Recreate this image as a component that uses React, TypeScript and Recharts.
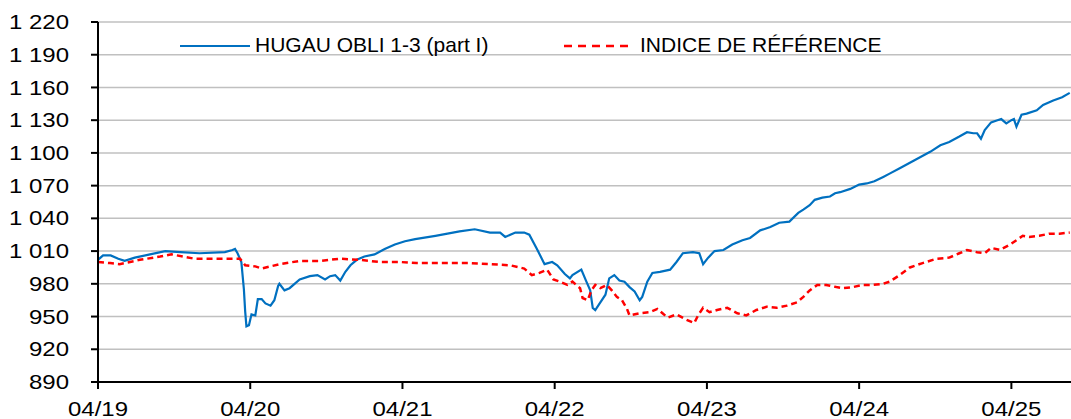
import React from 'react';
import { LineChart, Line, XAxis, YAxis, CartesianGrid } from 'recharts';

// months since 04/2019
const fundMonths = [
  0, 0.4, 1.0, 1.6, 2.1, 2.9, 4.1, 5.3, 6.5, 8.0, 10.0, 10.6, 10.8, 11.0, 11.3, 11.5, 11.6, 11.7, 11.9, 12.1,
  12.4, 12.6, 12.9, 13.2, 13.6, 13.9, 14.2, 14.3, 14.7, 15.1, 15.9, 16.7, 17.3, 17.9, 18.3, 18.7, 19.1, 19.5,
  19.9, 20.4, 21.0, 21.8, 22.6, 23.4, 24.2, 25.0, 26.6, 28.5, 29.7, 30.9, 31.7, 32.1, 32.9, 33.6, 34.0, 34.6,
  35.2, 35.8, 36.2, 36.8, 37.2, 37.4, 38.1, 38.5, 38.8, 39.0, 39.2, 39.6, 40.0, 40.3, 40.7, 41.1, 41.5, 41.9,
  42.3, 42.7, 42.9, 43.3, 43.7, 44.3, 45.1, 45.6, 46.1, 46.9, 47.4, 47.7, 48.1, 48.6, 49.3, 50.0, 50.8, 51.4,
  52.2, 53.0, 53.7, 54.5, 55.2, 55.6, 56.1, 56.5, 57.1, 57.7, 58.1, 58.5, 59.3, 60.0, 60.6, 61.2, 61.9, 62.4,
  63.2, 64.0, 64.8, 65.6, 66.4, 67.1, 67.9, 68.5, 69.0, 69.3, 69.6, 69.9, 70.4, 70.9, 71.2, 71.6, 72.0, 72.2,
  72.4, 72.8, 73.2, 74.0, 74.5, 75.3, 76.0, 76.6,
];
const fundValues = [
  1002, 1006, 1006, 1003, 1001, 1004, 1007, 1010, 1009, 1008, 1009, 1011, 1012, 1008, 1000, 975, 955, 941, 942, 952,
  951, 966, 966, 962, 960, 965, 978, 980, 974, 976, 984, 987, 988, 984, 987, 988, 983, 991,
  997, 1002, 1005, 1007, 1012, 1016, 1019, 1021, 1024, 1028, 1030, 1027, 1027, 1023, 1027, 1027, 1025, 1012,
  998, 1000, 997, 989, 985, 988, 993, 982, 974, 958, 956, 963, 970, 985, 988, 983, 982, 977,
  973, 965, 968, 982, 990, 991, 993, 1000, 1008, 1009, 1008, 998, 1004, 1010, 1011, 1016, 1020, 1022,
  1029, 1032, 1036, 1037, 1045, 1048, 1052, 1057, 1059, 1060, 1063, 1064, 1067, 1071, 1072, 1074, 1078, 1081,
  1086, 1091, 1096, 1101, 1107, 1110, 1115, 1119, 1118, 1118, 1113, 1121, 1128, 1130, 1131, 1127, 1130, 1131,
  1124, 1135, 1136, 1139, 1144, 1148, 1151, 1155,
];

const benchMonths = [
  0, 0.95, 1.7, 3.3, 4.9, 5.8, 7.6, 9.6, 11.2, 11.6, 12.4, 12.9, 13.6, 14.3, 15.9, 17.5, 19.1, 20.6, 22.2, 23.8,
  25.1, 27.2, 29.3, 30.9, 32.5, 33.6, 34.2, 34.8, 35.4, 35.9, 36.4, 37.0, 37.4, 38.0, 38.2, 38.6, 38.9, 39.2,
  39.6, 40.1, 40.5, 40.9, 41.3, 41.7, 41.9, 42.7, 43.5, 44.1, 44.5, 44.9, 45.6, 46.4, 47.0, 47.3, 47.7, 48.2,
  48.8, 49.6, 50.4, 51.1, 51.9, 52.7, 53.5, 54.3, 55.1, 55.6, 56.1, 56.7, 57.4, 58.2, 58.7, 59.5, 60.3, 61.1,
  61.9, 62.4, 63.2, 64.0, 65.0, 66.1, 67.1, 67.9, 68.5, 69.3, 69.9, 70.4, 71.1, 71.9, 72.4, 72.9, 73.4, 74.2,
  75.0, 75.8, 76.6,
];
const benchValues = [
  1000, 999, 998, 1002, 1005, 1007, 1003, 1003, 1003, 997, 996, 994, 996, 998, 1001, 1001, 1003, 1002, 1000, 1000,
  999, 999, 999, 998, 997, 994, 988, 990, 993, 984, 982, 979, 982, 976, 967, 965, 974, 979,
  976, 979, 974, 968, 965, 957, 951, 953, 954, 957, 953, 949, 952, 947, 944, 951, 958, 954,
  956, 958, 953, 951, 956, 959, 958, 960, 963, 968, 974, 979, 979, 977, 976, 977, 979, 979,
  980, 982, 988, 995, 999, 1003, 1004, 1008, 1011, 1009, 1008, 1013, 1011, 1016, 1020, 1024, 1023, 1024,
  1026, 1026, 1027,
];

const xTicks = [0, 12, 24, 36, 48, 60, 72];
const xTickLabels = ['04/19', '04/20', '04/21', '04/22', '04/23', '04/24', '04/25'];
const yTicks = [890, 920, 950, 980, 1010, 1040, 1070, 1100, 1130, 1160, 1190, 1220];

const FUND_NAME = 'HUGAU OBLI 1-3 (part I)';
const BENCH_NAME = 'INDICE DE RÉFÉRENCE';

const BLUE = '#0070C0';
const RED = '#FF0000';
const FONT = '"Liberation Sans", Arial, sans-serif';

// merge both series on one numeric month axis
const merged: { m: number; fund?: number; bench?: number }[] = [];
fundMonths.forEach((m, i) => merged.push({ m, fund: fundValues[i] }));
benchMonths.forEach((m, i) => {
  const hit = merged.find((d) => d.m === m);
  if (hit) hit.bench = benchValues[i];
  else merged.push({ m, bench: benchValues[i] });
});
merged.sort((a, b) => a.m - b.m);

const fmtY = (v: number) =>
  v >= 1000 ? `${Math.floor(v / 1000)} ${String(v % 1000).padStart(3, '0')}` : String(v);

const YTick = (props: any) => {
  const { x, y, payload } = props;
  return (
    <g transform={`translate(${x},${y})`}>
      <text transform="scale(1.2,1)" textAnchor="end" dy="0.355em" fontSize={20} fontFamily={FONT} fill="#000">
        {fmtY(payload.value)}
      </text>
    </g>
  );
};

const XTick = (props: any) => {
  const { x, y, payload } = props;
  const idx = xTicks.indexOf(payload.value);
  return (
    <g transform={`translate(${x},${y})`}>
      <text transform="scale(1.2,1)" textAnchor="middle" dy="0.71em" fontSize={20} fontFamily={FONT} fill="#000">
        {idx >= 0 ? xTickLabels[idx] : ''}
      </text>
    </g>
  );
};

const App: React.FC = () => {
  return (
    <div style={{ position: 'absolute', left: 0, top: 0, width: 1071, height: 419, overflow: 'hidden', background: '#fff' }}>
      <LineChart width={1071} height={419} data={merged} margin={{ top: 22, right: 0, left: 0, bottom: 0 }}>
        <CartesianGrid vertical={false} stroke="#c0c0c0" strokeWidth={1.5} />
        <XAxis
          dataKey="m"
          type="number"
          domain={[0, 76.7]}
          ticks={xTicks}
          interval={0}
          allowDataOverflow
          height={37}
          tickSize={7}
          tickMargin={13}
          axisLine={{ stroke: '#000', strokeWidth: 2 }}
          tickLine={{ stroke: '#000', strokeWidth: 2 }}
          tick={<XTick />}
        />
        <YAxis
          type="number"
          domain={[890, 1220]}
          ticks={yTicks}
          interval={0}
          width={98}
          tickSize={7}
          tickMargin={22}
          axisLine={{ stroke: '#000', strokeWidth: 2 }}
          tickLine={{ stroke: '#000', strokeWidth: 2 }}
          tick={<YTick />}
        />
        <Line
          type="linear"
          dataKey="fund"
          stroke={BLUE}
          strokeWidth={2.2}
          dot={false}
          connectNulls
          isAnimationActive={false}
        />
        <Line
          type="linear"
          dataKey="bench"
          stroke={RED}
          strokeWidth={2.5}
          strokeDasharray="6 4"
          dot={false}
          connectNulls
          isAnimationActive={false}
        />
      </LineChart>

      {/* legend */}
      <div style={{ position: 'absolute', left: 180, top: 45, width: 70, height: 2, background: BLUE }} />
      <div style={{ position: 'absolute', left: 255, top: 33, fontFamily: FONT, fontSize: 21, lineHeight: '24px', color: '#000', whiteSpace: 'nowrap' }}>
        {FUND_NAME}
      </div>
      <svg style={{ position: 'absolute', left: 564, top: 42 }} width={66} height={8}>
        <line x1={0} y1={4} x2={66} y2={4} stroke={RED} strokeWidth={2.5} strokeDasharray="8 6" />
      </svg>
      <div style={{ position: 'absolute', left: 640, top: 33, fontFamily: FONT, fontSize: 21, lineHeight: '24px', color: '#000', whiteSpace: 'nowrap' }}>
        {BENCH_NAME}
      </div>
    </div>
  );
};

export default App;
